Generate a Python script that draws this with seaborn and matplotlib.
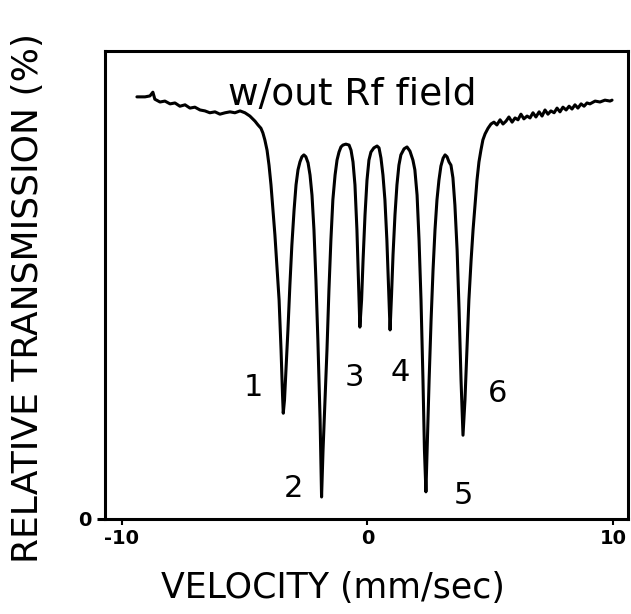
import matplotlib
matplotlib.use("Agg")
import matplotlib.pyplot as plt
import seaborn as sns
import pandas as pd

# Mossbauer spectrum: velocity (mm/sec) vs relative transmission (%)
velocity = [
    -9.39, -9.06, -8.86, -8.74, -8.66, -8.45, -8.25, -8.04, -7.84, -7.64,
    -7.43, -7.23, -7.03, -6.82, -6.62, -6.42, -6.21, -6.01, -5.80, -5.60,
    -5.40, -5.19, -4.99, -4.79, -4.58, -4.46, -4.34, -4.26, -4.18, -4.09,
    -4.01, -3.93, -3.85, -3.77, -3.69, -3.60, -3.52, -3.46, -3.43, -3.38,
    -3.32, -3.24, -3.16, -3.08, -2.99, -2.91, -2.83, -2.75, -2.67, -2.59,
    -2.51, -2.42, -2.34, -2.26, -2.18, -2.10, -2.02, -1.93, -1.87, -1.81,
    -1.73, -1.65, -1.57, -1.49, -1.41, -1.32, -1.24, -1.16, -1.08, -1.00,
    -0.88, -0.75, -0.67, -0.59, -0.51, -0.43, -0.37, -0.31, -0.24, -0.18,
    -0.10, -0.02, 0.06, 0.14, 0.26, 0.39, 0.47, 0.55, 0.63, 0.71,
    0.79, 0.86, 0.92, 0.98, 1.04, 1.12, 1.20, 1.28, 1.36, 1.49,
    1.61, 1.73, 1.85, 1.93, 2.02, 2.10, 2.18, 2.26, 2.32, 2.38,
    2.44, 2.51, 2.59, 2.67, 2.75, 2.83, 2.91, 2.99, 3.08, 3.16,
    3.24, 3.32, 3.40, 3.48, 3.56, 3.65, 3.73, 3.81, 3.89, 3.97,
    4.05, 4.13, 4.22, 4.30, 4.38, 4.46, 4.54, 4.62, 4.70, 4.79,
    4.91, 5.03, 5.15, 5.27, 5.40, 5.52, 5.64, 5.76, 5.89, 6.01,
    6.13, 6.25, 6.37, 6.50, 6.62, 6.74, 6.86, 6.99, 7.11, 7.23,
    7.35, 7.47, 7.60, 7.72, 7.84, 7.96, 8.09, 8.21, 8.33, 8.45,
    8.57, 8.70, 8.82, 8.94, 9.06, 9.27, 9.47, 9.67, 9.88, 9.96,
]
transmission = [
    90.2, 90.2, 90.4, 91.2, 89.7, 89.1, 89.3, 88.7, 88.9, 88.2,
    88.5, 87.8, 88.0, 87.4, 87.2, 86.8, 87.0, 86.5, 86.8, 87.0,
    86.8, 87.2, 86.8, 86.1, 85.0, 84.2, 83.5, 82.5, 81.0, 78.8,
    75.6, 71.4, 66.0, 60.7, 54.3, 46.8, 36.1, 26.5, 22.6, 25.4,
    31.8, 40.4, 50.0, 58.5, 66.0, 71.4, 74.6, 76.3, 77.4, 77.8,
    77.4, 76.1, 73.5, 69.2, 61.8, 51.1, 38.2, 21.2, 4.7, 14.7,
    25.4, 36.1, 48.9, 59.6, 68.2, 73.5, 76.7, 78.4, 79.5, 79.9,
    80.1, 79.9, 78.8, 76.3, 71.4, 61.8, 51.1, 41.0, 46.8, 55.3,
    65.0, 72.4, 76.7, 78.4, 79.3, 79.7, 79.3, 77.1, 73.5, 68.2,
    59.6, 48.9, 40.4, 47.9, 56.4, 65.0, 71.4, 75.6, 77.8, 79.1,
    79.5, 78.6, 76.7, 74.6, 69.2, 59.6, 46.8, 29.7, 14.7, 5.8,
    16.9, 29.7, 42.5, 53.2, 61.8, 68.2, 72.4, 75.4, 77.1, 77.8,
    77.4, 76.3, 75.6, 72.9, 67.1, 57.5, 44.7, 29.7, 17.9, 25.4,
    36.1, 46.8, 55.3, 61.8, 67.1, 72.4, 76.3, 78.8, 81.0, 82.3,
    83.5, 84.4, 84.8, 84.2, 85.3, 84.4, 85.0, 85.9, 84.8, 85.7,
    85.3, 86.5, 85.5, 86.1, 85.7, 86.8, 85.9, 87.0, 86.1, 87.4,
    86.5, 87.2, 86.8, 87.8, 87.0, 88.0, 87.4, 88.2, 87.6, 88.5,
    87.8, 88.7, 88.2, 88.9, 88.7, 89.3, 89.1, 89.5, 89.3, 89.5,
]

peak_labels = ["1", "2", "3", "4", "5", "6"]
peak_label_v = [-4.66, -3.03, -0.55, 1.32, 3.89, 5.31]
peak_label_t = [28.0, 6.6, 30.3, 31.4, 5.1, 26.9]

x_ticks = [-10, 0, 10]
x_tick_labels = ["-10", "0", "10"]
y_ticks = [0]
y_tick_labels = ["0"]

title_text = "w/out Rf field"
x_label = "VELOCITY (mm/sec)"
y_label = "RELATIVE TRANSMISSION (%)"

df = pd.DataFrame({"velocity": velocity, "transmission": transmission})

sns.set_style("white")
plt.rcParams["font.family"] = ["DejaVu Sans"]
plt.rcParams["text.color"] = "black"
plt.rcParams["axes.labelcolor"] = "black"

W, H = 631, 614
fig = plt.figure(figsize=(W / 100, H / 100), dpi=100)
ax = fig.add_axes([105 / W, 1 - 519 / H, (628 - 105) / W, (519 - 51) / H])

sns.lineplot(data=df, x="velocity", y="transmission", estimator=None,
             color="black", linewidth=2.2, ax=ax)

ax.set_xlim(-10.69, 10.61)
ax.set_ylim(0, 100)

for s in ax.spines.values():
    s.set_color("black")
    s.set_linewidth(2.2)
    s.set_visible(True)

ax.set_xticks(x_ticks)
ax.set_xticklabels(x_tick_labels, fontsize=14, fontweight="bold")
ax.set_yticks(y_ticks)
ax.set_yticklabels(y_tick_labels, fontsize=14, fontweight="bold")
ax.tick_params(axis="x", direction="out", length=4, width=1.5, pad=3,
               bottom=True, colors="black")
ax.tick_params(axis="y", direction="out", length=6, width=2.2, pad=4,
               left=True, colors="black")

ax.set_xlabel(x_label, fontsize=25, color="black")
ax.xaxis.set_label_coords((333 - 105) / (628 - 105), -(571 - 519) / (519 - 51))
ax.set_ylabel(y_label, fontsize=26, color="black")
ax.yaxis.set_label_coords(-(105 - 45) / (628 - 105), (519 - 298) / (519 - 51))

ax.text(-0.6, 90.6, title_text, fontsize=27, ha="center", va="center")
for lab, v, t in zip(peak_labels, peak_label_v, peak_label_t):
    ax.text(v, t, lab, fontsize=22, ha="center", va="center")

fig.savefig("out.png", dpi=100)
